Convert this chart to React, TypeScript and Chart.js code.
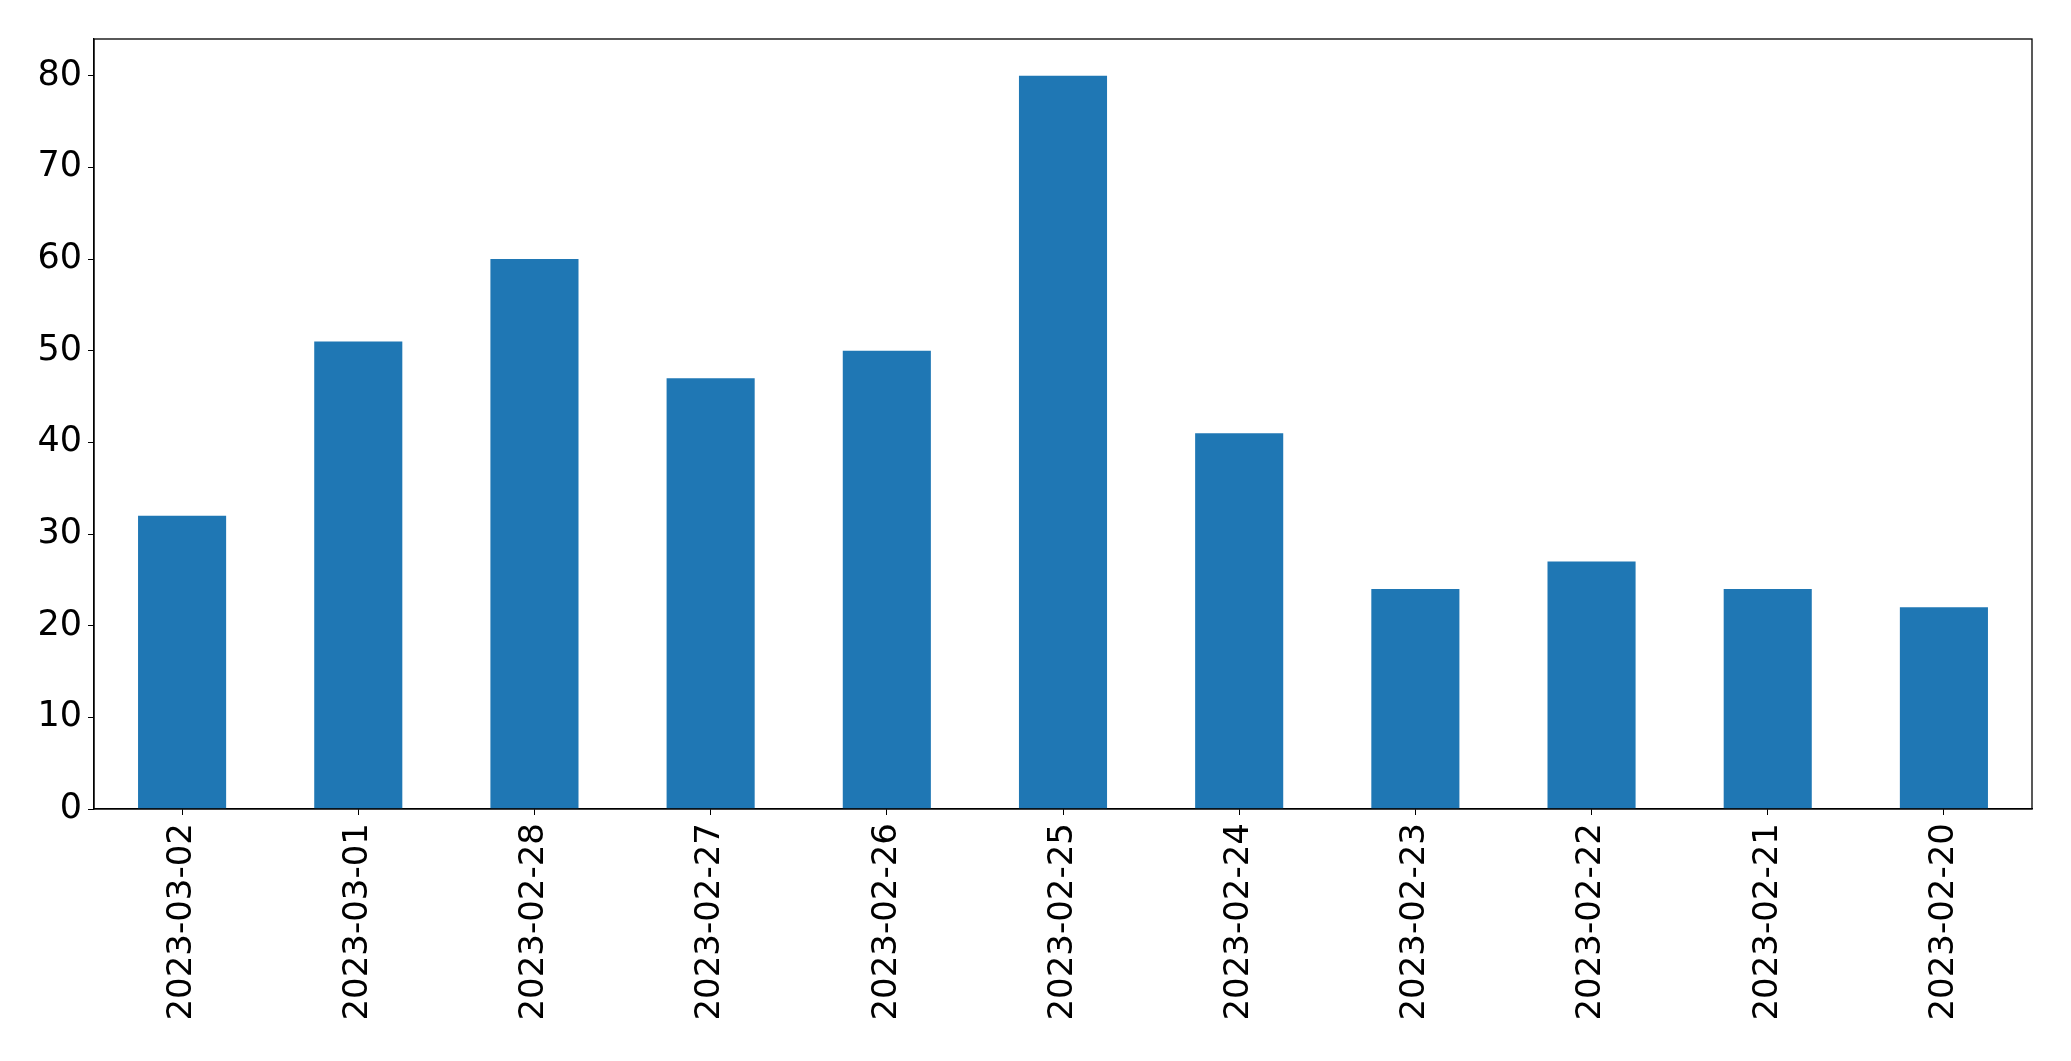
import React, { useEffect, useRef } from "react";
import { Chart, registerables } from "chart.js";

Chart.register(...registerables);

const categories = [
  "2023-03-02", "2023-03-01", "2023-02-28", "2023-02-27", "2023-02-26",
  "2023-02-25", "2023-02-24", "2023-02-23", "2023-02-22", "2023-02-21", "2023-02-20",
];
const values = [32, 51, 60, 47, 50, 80, 41, 24, 27, 24, 22];
const yTicks = [0, 10, 20, 30, 40, 50, 60, 70, 80];

const FONT = "'DejaVu Sans', sans-serif";

const framePlugin = {
  id: "frame",
  afterDraw(chart: any) {
    const { ctx, chartArea } = chart;
    ctx.save();
    ctx.strokeStyle = "#000";
    ctx.lineWidth = 1.3;
    ctx.strokeRect(chartArea.left, chartArea.top, chartArea.right - chartArea.left, chartArea.bottom - chartArea.top);
    ctx.restore();
  },
};

export default function App() {
  const ref = useRef<HTMLCanvasElement | null>(null);
  useEffect(() => {
    if (!ref.current) return;
    const chart = new Chart(ref.current, {
      type: "bar",
      data: {
        labels: categories,
        datasets: [
          {
            data: values,
            backgroundColor: "#1f77b4",
            borderWidth: 0,
            categoryPercentage: 1,
            barPercentage: 0.5,
          },
        ],
      },
      options: {
        animation: false,
        responsive: false,
        maintainAspectRatio: false,
        layout: { padding: { left: 0, right: 39, top: 39, bottom: 0 } },
        plugins: { legend: { display: false }, tooltip: { enabled: false } },
        scales: {
          x: {
            offset: true,
            grid: { display: true, drawOnChartArea: false, drawTicks: true, tickLength: 6, color: "#000", offset: false },
            border: { display: true, color: "#000", width: 1.3 },
            ticks: {
              maxRotation: 90,
              minRotation: 90,
              autoSkip: false,
              padding: 8,
              color: "#000",
              font: { family: FONT, size: 34 },
            },
            afterFit: (axis: any) => { axis.height = 252; },
          },
          y: {
            min: 0,
            max: 84,
            grid: { display: true, drawOnChartArea: false, drawTicks: true, tickLength: 6, color: "#000" },
            border: { display: true, color: "#000", width: 1.3 },
            ticks: {
              stepSize: 10,
              padding: 6,
              color: "#000",
              font: { family: FONT, size: 35 },
            },
            afterBuildTicks: (axis: any) => {
              axis.ticks = yTicks.map((v) => ({ value: v }));
            },
            afterFit: (axis: any) => { axis.width = 94; },
          },
        },
      },
      plugins: [framePlugin],
    });
    return () => chart.destroy();
  }, []);
  return (
    <div style={{ position: "fixed", left: 0, top: 0, width: 2071, height: 1061, background: "#fff" }}>
      <canvas ref={ref} width={2071} height={1061} style={{ width: 2071, height: 1061, display: "block" }} />
    </div>
  );
}
